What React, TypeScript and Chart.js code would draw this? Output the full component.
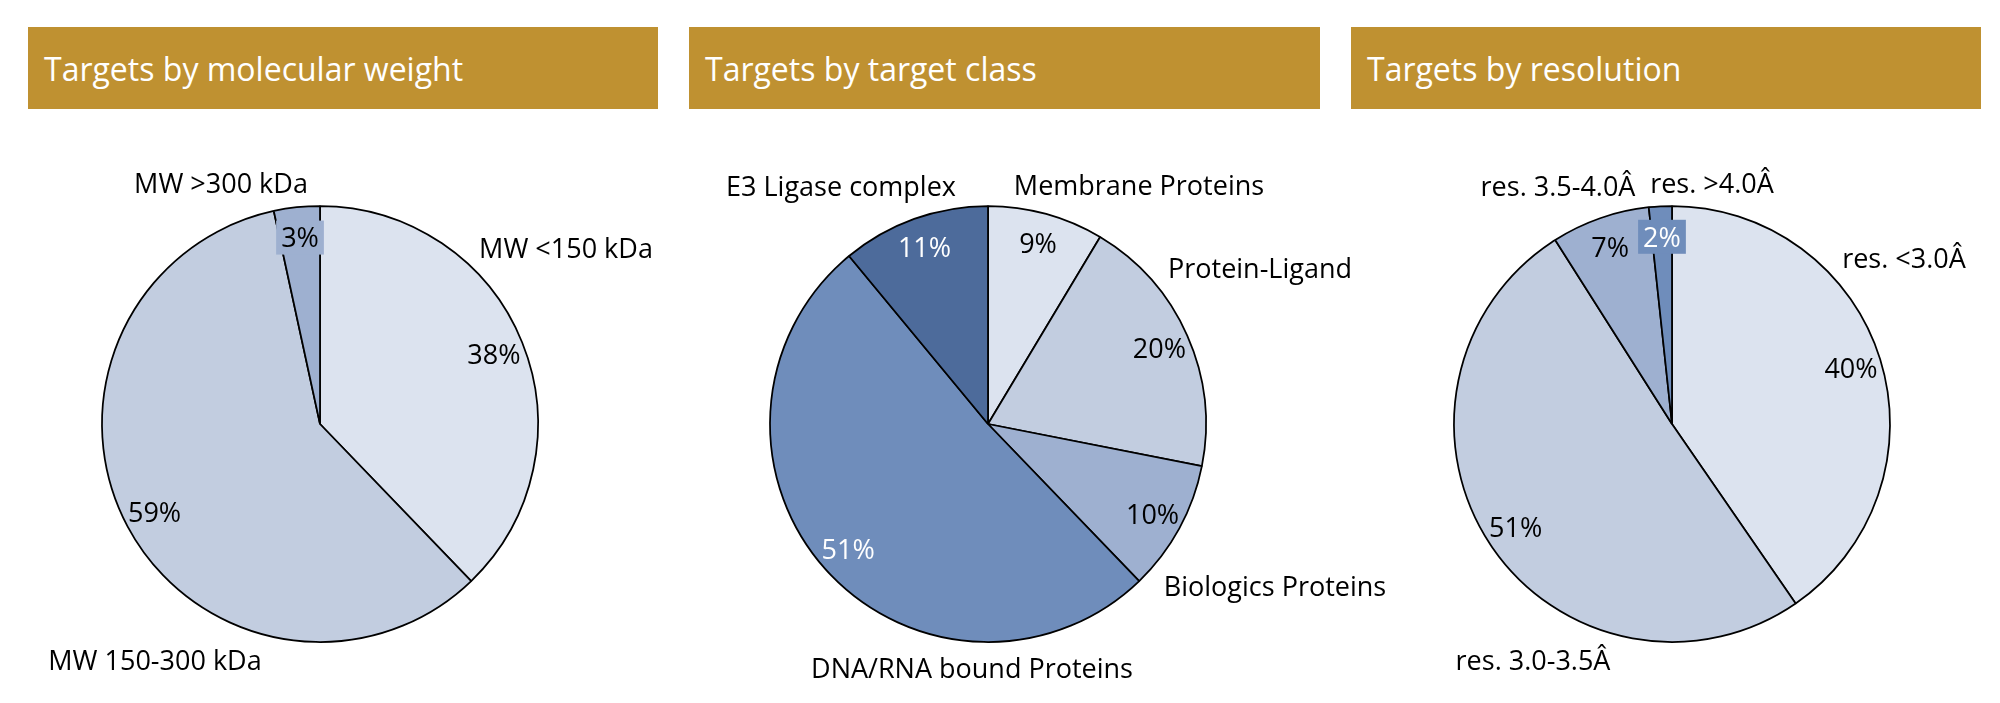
import React, { useEffect, useRef } from "react";
import { Chart, registerables } from "chart.js";

Chart.register(...registerables);

// ---------- data ----------
const panelTitles = ["Targets by molecular weight", "Targets by target class", "Targets by resolution"];

const mwCategories = ["MW <150 kDa", "MW 150-300 kDa", "MW >300 kDa"];
const mwValues = [37.8, 58.8, 3.4];

const classCategories = [
  "Membrane Proteins",
  "Protein-Ligand",
  "Biologics Proteins",
  "DNA/RNA bound Proteins",
  "E3 Ligase complex",
];
const classValues = [8.6, 19.5, 9.7, 51.2, 11.0];

const resCategories = ["res. <3.0Â", "res. 3.0-3.5Â", "res. 3.5-4.0Â", "res. >4.0Â"];
const resValues = [40.4, 50.6, 7.3, 1.7];

// ---------- styles ----------
const GOLD = "#BF9131";
const C1 = "#DCE3EF";
const C2 = "#C2CDE0";
const C3 = "#9EB0D0";
const C4 = "#6F8DBB";
const C5 = "#4D6B9B";
const FONT = '"Open Sans", sans-serif';
const LABEL_SIZE = 27;
const RADIUS = 218;

type Panel = {
  title: string;
  headerLeft: number;
  headerWidth: number;
  cx: number;
  cy: number;
  categories: string[];
  values: number[];
  colors: string[];
  textColors: string[];
  catOffsets: [number, number][];
};

const panels: Panel[] = [
  {
    title: panelTitles[0],
    headerLeft: 28,
    headerWidth: 630,
    cx: 320,
    cy: 424,
    categories: mwCategories,
    values: mwValues,
    colors: [C1, C2, C3],
    textColors: ["#000", "#000", "#000"],
    catOffsets: [
      [246, -176],
      [-165, 236],
      [-99, -241],
    ],
  },
  {
    title: panelTitles[1],
    headerLeft: 689,
    headerWidth: 631,
    cx: 988,
    cy: 424,
    categories: classCategories,
    values: classValues,
    colors: [C1, C2, C3, C4, C5],
    textColors: ["#000", "#000", "#000", "#fff", "#fff"],
    catOffsets: [
      [151, -239],
      [272, -156],
      [287, 162],
      [-16, 244],
      [-147, -238],
    ],
  },
  {
    title: panelTitles[2],
    headerLeft: 1351,
    headerWidth: 630,
    cx: 1672,
    cy: 424,
    categories: resCategories,
    values: resValues,
    colors: [C1, C2, C3, C4],
    textColors: ["#000", "#000", "#000", "#fff"],
    catOffsets: [
      [232, -166],
      [-139, 236],
      [-114, -238],
      [40, -241],
    ],
  },
];

const CANVAS_W = 900;
const CANVAS_H = 703;

function makeLabelPlugin(p: Panel) {
  return {
    id: "pieLabels",
    afterDatasetsDraw(chart: any) {
      const ctx: CanvasRenderingContext2D = chart.ctx;
      const meta = chart.getDatasetMeta(0);
      const vals = p.values;
      const total = vals.reduce((a, b) => a + b, 0);
      ctx.save();
      ctx.font = `${LABEL_SIZE}px ${FONT}`;
      ctx.textAlign = "center";
      ctx.textBaseline = "alphabetic";
      meta.data.forEach((arc: any, i: number) => {
        const { x, y, startAngle, endAngle, outerRadius } = arc.getProps(
          ["x", "y", "startAngle", "endAngle", "outerRadius"],
          true
        );
        const mid = (startAngle + endAngle) / 2;
        const lx = x + Math.cos(mid) * outerRadius * 0.86;
        const ly = y + Math.sin(mid) * outerRadius * 0.86;
        const share = vals[i] / total;
        const text = Math.round(share * 100) + "%";
        if (share < 0.05) {
          const w = ctx.measureText(text).width + 10;
          const h = 34;
          ctx.fillStyle = p.colors[i];
          ctx.fillRect(lx - w / 2, ly - h / 2, w, h);
        }
        ctx.fillStyle = p.textColors[i];
        ctx.fillText(text, lx, ly + LABEL_SIZE * 0.36);

        const [dx, dy] = p.catOffsets[i];
        ctx.fillStyle = "#000";
        ctx.fillText(p.categories[i], x + dx, y + dy + LABEL_SIZE * 0.36);
      });
      ctx.restore();
    },
  };
}

function PieCanvas({ panel }: { panel: Panel }) {
  const ref = useRef<HTMLCanvasElement | null>(null);
  useEffect(() => {
    if (!ref.current) return;
    const padTop = Math.max(0, 2 * panel.cy - CANVAS_H);
    const padBottom = Math.max(0, CANVAS_H - 2 * panel.cy);
    const chart = new Chart(ref.current, {
      type: "pie",
      data: {
        labels: panel.categories,
        datasets: [
          {
            data: panel.values,
            backgroundColor: panel.colors,
            borderColor: "#000",
            borderWidth: 1.75,
            radius: RADIUS,
            hoverOffset: 0,
          } as any,
        ],
      },
      options: {
        animation: false,
        responsive: false,
        devicePixelRatio: 1,
        events: [],
        layout: { padding: { top: padTop, bottom: padBottom, left: 0, right: 0 } },
        plugins: {
          legend: { display: false },
          tooltip: { enabled: false },
          title: { display: false },
        },
      },
      plugins: [makeLabelPlugin(panel)],
    });
    return () => chart.destroy();
  }, [panel]);
  return (
    <canvas
      ref={ref}
      width={CANVAS_W}
      height={CANVAS_H}
      style={{
        position: "absolute",
        left: panel.cx - CANVAS_W / 2,
        top: 0,
        width: CANVAS_W,
        height: CANVAS_H,
      }}
    />
  );
}

export default function App() {
  return (
    <div
      style={{
        position: "absolute",
        left: 0,
        top: 0,
        width: 2000,
        height: 703,
        overflow: "hidden",
        background: "#fff",
      }}
    >
      {panels.map((p, i) => (
        <div
          key={"h" + i}
          style={{
            position: "absolute",
            left: p.headerLeft,
            top: 27,
            width: p.headerWidth,
            height: 82,
            background: GOLD,
            color: "#fff",
            fontFamily: FONT,
            fontSize: 32,
            lineHeight: "84px",
            paddingLeft: 16,
            boxSizing: "border-box",
            whiteSpace: "nowrap",
          }}
        >
          {p.title}
        </div>
      ))}
      {panels.map((p, i) => (
        <PieCanvas key={"c" + i} panel={p} />
      ))}
    </div>
  );
}
